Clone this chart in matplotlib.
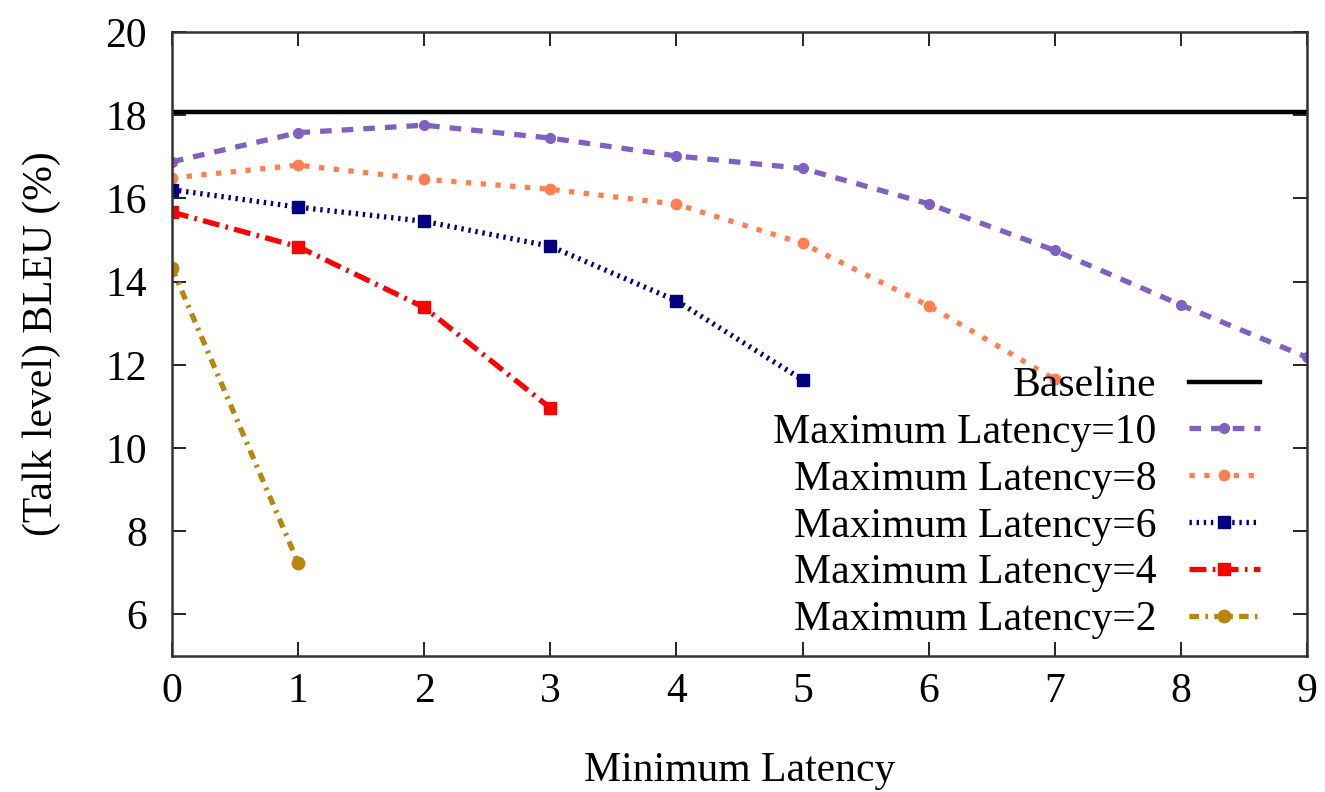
import matplotlib
matplotlib.use("Agg")
import matplotlib.pyplot as plt
from matplotlib.font_manager import FontProperties

FAM = ['Liberation Serif', 'DejaVu Serif']
plt.rcParams['font.family'] = FAM
FS = 30
fp = FontProperties(family=FAM, size=FS)

baseline = 18.08
x10 = [0, 1, 2, 3, 4, 5, 6, 7, 8, 9]
y10 = [16.88, 17.58, 17.76, 17.45, 17.02, 16.72, 15.87, 14.75, 13.44, 12.18]
x8 = [0, 1, 2, 3, 4, 5, 6, 7]
y8 = [16.49, 16.80, 16.46, 16.22, 15.86, 14.92, 13.42, 11.65]
x6 = [0, 1, 2, 3, 4, 5]
y6 = [16.21, 15.79, 15.45, 14.85, 13.54, 11.64]
x4 = [0, 1, 2, 3]
y4 = [15.67, 14.84, 13.38, 10.96]
x2 = [0, 1]
y2 = [14.33, 7.24]

xticks = [0, 1, 2, 3, 4, 5, 6, 7, 8, 9]
yticks = [6, 8, 10, 12, 14, 16, 18, 20]

labels = ["Baseline", "Maximum Latency=10", "Maximum Latency=8",
          "Maximum Latency=6", "Maximum Latency=4", "Maximum Latency=2"]

fig = plt.figure(figsize=(13.25, 7.92), dpi=100)
ax = fig.add_axes([0.1298, 0.1717, 0.8566, 0.7879])

lw = 3.8
ax.axhline(baseline, color='black', lw=3.2, label=labels[0])
ax.plot(x10, y10, color='#8060c0', lw=lw, ls=(0, (2.2, 1.9)), marker='o', ms=7, label=labels[1])
ax.plot(x8, y8, color='#ff7f50', lw=lw, ls=(0, (1.0, 1.8)), marker='o', ms=7.5, label=labels[2])
ax.plot(x6, y6, color='#000080', lw=lw, ls=(0, (0.45, 0.9)), marker='s', ms=8, label=labels[3])
ax.plot(x4, y4, color='#ff0000', lw=lw, ls=(0, (3.2, 1.2, 0.5, 1.2)), marker='s', ms=8, label=labels[4])
ax.plot(x2, y2, color='#b8860b', lw=lw, ls=(0, (1.8, 1.2, 0.5, 1.2)), marker='o', ms=9, label=labels[5])

ax.set_xlim(0, 9)
ax.set_ylim(5, 20)
ax.set_xticks(xticks)
ax.set_yticks(yticks)
ax.set_xticklabels([str(v) for v in xticks], fontproperties=fp)
ax.set_yticklabels([str(v) for v in yticks], fontproperties=fp)
ax.tick_params(axis='x', direction='in', length=10, width=1.2, top=True, pad=12)
ax.tick_params(axis='y', direction='in', length=10, width=1.2, right=True, pad=18)
for s in ax.spines.values():
    s.set_linewidth(1.8)
    s.set_color('#333333')

ax.set_xlabel("Minimum Latency", fontproperties=fp, labelpad=29)
ax.set_ylabel("(Talk level) BLEU (%)", fontproperties=fp, labelpad=32)

leg = ax.legend(loc='lower right', bbox_to_anchor=(0.984, -0.02), frameon=False,
                prop=fp, markerfirst=False, handlelength=1.7, handletextpad=0.78,
                labelspacing=0.2, borderpad=0.2)

fig.savefig("out.png", dpi=100)
